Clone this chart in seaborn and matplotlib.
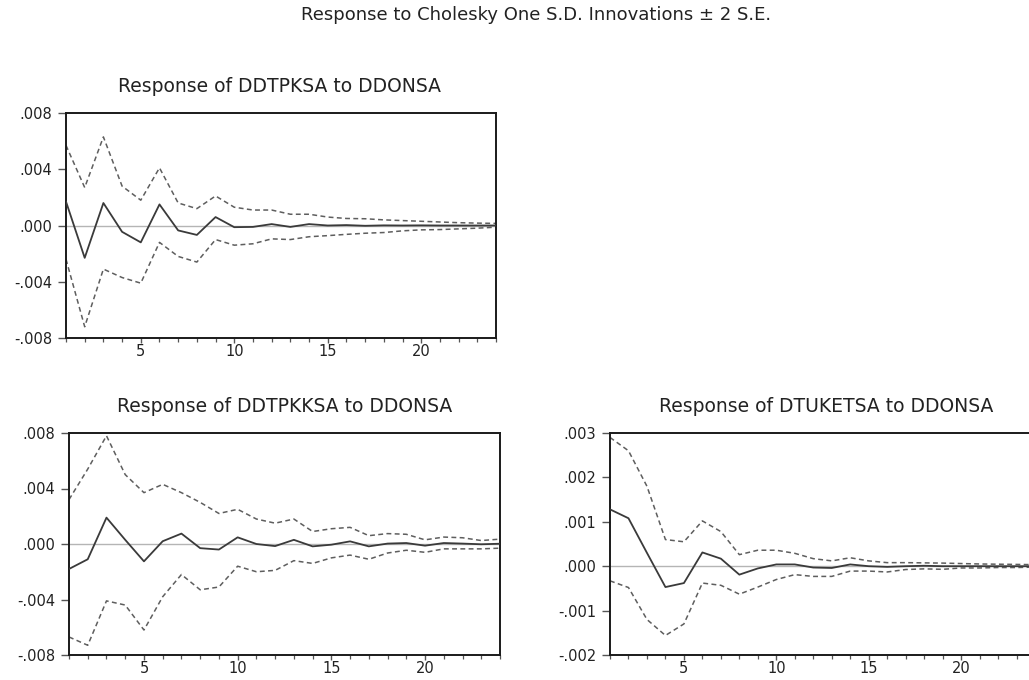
import numpy as np
import pandas as pd
import matplotlib
matplotlib.use("Agg")
import matplotlib.pyplot as plt
from matplotlib.ticker import FuncFormatter, MultipleLocator, FixedLocator
import seaborn as sns

# ---------------- data ----------------
periods = list(range(1, 25))

suptitle_text = "Response to Cholesky One S.D. Innovations \u00b1 2 S.E."
title_a = "Response of DDTPKSA to DDONSA"
title_b = "Response of DDTPKKSA to DDONSA"
title_c = "Response of DTUKETSA to DDONSA"

# Panel A: DDTPKSA
a_resp = [0.0017, -0.0023, 0.0016, -0.00045, -0.0012, 0.0015, -0.00035, -0.00067,
          0.0006, -0.00012, -0.0001, 0.0001, -0.0001, 0.0001, 0.0, 0.00003,
          -0.00002, 0.00001, 0.0, 0.00001, 0.0, 0.0, 0.0, 0.0]
a_upper = [0.0057, 0.0027, 0.0063, 0.0028, 0.0018, 0.0041, 0.0016, 0.0012,
           0.0021, 0.0013, 0.0011, 0.0011, 0.0008, 0.0008, 0.0006, 0.0005,
           0.00048, 0.0004, 0.00035, 0.0003, 0.00025, 0.0002, 0.00017, 0.00015]
a_lower = [-0.0024, -0.0072, -0.0031, -0.0037, -0.0041, -0.0012, -0.0022, -0.0026,
           -0.0010, -0.0014, -0.0013, -0.00095, -0.0010, -0.0008, -0.00072, -0.00063,
           -0.00055, -0.0005, -0.00038, -0.00031, -0.00029, -0.00024, -0.00019, -0.00012]

# Panel B: DDTPKKSA
b_resp = [-0.0018, -0.0011, 0.0019, 0.0003, -0.00125, 0.0002, 0.00075, -0.0003,
          -0.0004, 0.00048, 0.0, -0.00015, 0.0003, -0.00017, -0.00005, 0.00019,
          -0.00017, 0.00003, 0.00007, -0.00012, 0.00007, 0.00003, -0.00002, 0.00002]
b_upper = [0.0032, 0.0054, 0.0078, 0.0050, 0.0037, 0.0043, 0.0037, 0.0030,
           0.0022, 0.0025, 0.0018, 0.0015, 0.0018, 0.0009, 0.0011, 0.0012,
           0.0006, 0.00075, 0.0007, 0.0003, 0.0005, 0.00045, 0.00025, 0.00035]
b_lower = [-0.0067, -0.0073, -0.0041, -0.0044, -0.0062, -0.0038, -0.0022, -0.0033,
           -0.0031, -0.0016, -0.0020, -0.0019, -0.0012, -0.0014, -0.0010, -0.0008,
           -0.0011, -0.00065, -0.00045, -0.0006, -0.00035, -0.00035, -0.00035, -0.0003]

# Panel C: DTUKETSA
c_resp = [0.00128, 0.00108, 0.0003, -0.00047, -0.00038, 0.00031, 0.00017, -0.00019,
          -0.00005, 0.00004, 0.00004, -0.00003, -0.00004, 0.00004, 0.0, -0.000015,
          0.0, 0.00001, 0.0, 0.0, 0.0, 0.0, 0.0, 0.0]
c_upper = [0.0029, 0.0026, 0.0018, 0.0006, 0.00055, 0.00102, 0.00078, 0.00026,
           0.00036, 0.00036, 0.00029, 0.00017, 0.00012, 0.00019, 0.00012, 0.00008,
           0.00008, 0.000075, 0.00007, 0.00006, 0.00005, 0.000045, 0.00004, 0.000035]
c_lower = [-0.00033, -0.00048, -0.0012, -0.00156, -0.0013, -0.00038, -0.00043, -0.00063,
           -0.00047, -0.0003, -0.00019, -0.00023, -0.00023, -0.00011, -0.00011, -0.00013,
           -0.000075, -0.00006, -0.00007, -0.00004, -0.00004, -0.00003, -0.00003, -0.00002]

a_yticks = [-0.008, -0.004, 0.0, 0.004, 0.008]
b_yticks = [-0.008, -0.004, 0.0, 0.004, 0.008]
c_yticks = [-0.002, -0.001, 0.0, 0.001, 0.002, 0.003]
x_major = [5, 10, 15, 20]

# ---------------- styling ----------------
sns.set_theme(style="white")
plt.rcParams["font.family"] = ["DejaVu Sans"]
plt.rcParams["axes.unicode_minus"] = False

W, H = 1029, 680
fig = plt.figure(figsize=(W / 100, H / 100), dpi=100)
fig.patch.set_facecolor("white")

def box(l, t, r, b):
    return [l / W, 1 - b / H, (r - l) / W, (b - t) / H]

def fmt(v, pos=None):
    s = f"{v:.3f}"
    s = s.replace("-0.", "-.").replace("0.", ".")
    if s == "-.000":
        s = ".000"
    return s

def draw(ax, resp, upper, lower, yticks):
    ax.axhline(0, color="#b5b5b5", lw=1.0, zorder=1)
    sns.lineplot(x=periods, y=upper, ax=ax, color="#5e5e5e", lw=1.1,
                 linestyle=(0, (3.2, 2.2)), zorder=2)
    sns.lineplot(x=periods, y=lower, ax=ax, color="#5e5e5e", lw=1.1,
                 linestyle=(0, (3.2, 2.2)), zorder=2)
    sns.lineplot(x=periods, y=resp, ax=ax, color="#3a3a3a", lw=1.3, zorder=3)
    ax.set_xlim(1, 24)
    ax.set_ylim(min(yticks), max(yticks))
    ax.yaxis.set_major_locator(FixedLocator(yticks))
    ax.yaxis.set_major_formatter(FuncFormatter(fmt))
    ax.xaxis.set_major_locator(FixedLocator(x_major))
    ax.xaxis.set_minor_locator(MultipleLocator(1))
    ax.set_xlabel("")
    ax.set_ylabel("")
    for sp in ax.spines.values():
        sp.set_visible(True)
        sp.set_color("#1a1a1a")
        sp.set_linewidth(1.4)
    ax.tick_params(axis="y", which="major", direction="out", length=6, width=1.0,
                   color="#555555", labelsize=10.5, labelcolor="#222222", pad=4,
                   left=True, right=False)
    ax.tick_params(axis="x", which="major", direction="out", length=3.5, width=1.0,
                   color="#555555", labelsize=10.5, labelcolor="#222222", pad=1,
                   bottom=True, top=False)
    ax.tick_params(axis="x", which="minor", direction="out", length=3, width=0.9,
                   color="#555555", bottom=True, top=False)
    ax.set_facecolor("white")
    ax.grid(False)

ax_a = fig.add_axes(box(66, 113, 496, 338))
ax_b = fig.add_axes(box(69, 433, 500, 655))
ax_c = fig.add_axes(box(610, 433, 1035, 655))

draw(ax_a, a_resp, a_upper, a_lower, a_yticks)
draw(ax_b, b_resp, b_upper, b_lower, b_yticks)
draw(ax_c, c_resp, c_upper, c_lower, c_yticks)

tcolor = "#222222"
fig.text(536 / W, 1 - 15 / H, suptitle_text, ha="center", va="center",
         fontsize=13, color=tcolor)
fig.text(279 / W, 1 - 87 / H, title_a, ha="center", va="center",
         fontsize=13.5, color=tcolor)
fig.text(285 / W, 1 - 406 / H, title_b, ha="center", va="center",
         fontsize=13.5, color=tcolor)
fig.text(826 / W, 1 - 406 / H, title_c, ha="center", va="center",
         fontsize=13.5, color=tcolor)

fig.savefig("out.png", dpi=100, facecolor="white")
